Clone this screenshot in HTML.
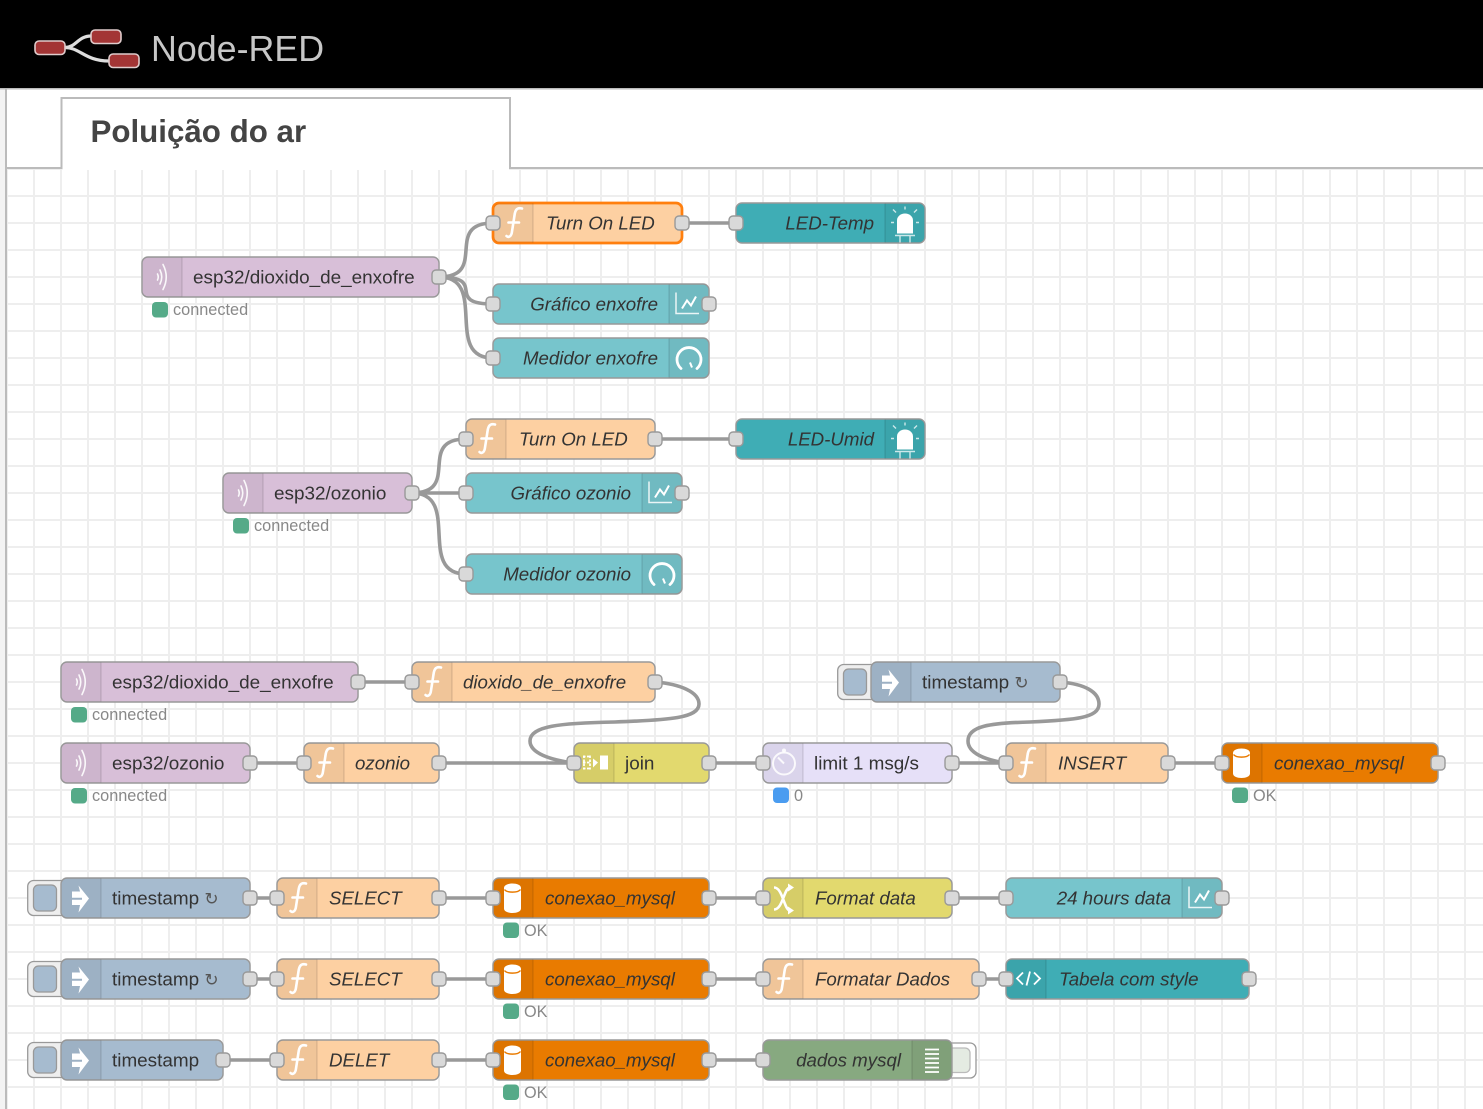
<!DOCTYPE html>
<html><head><meta charset="utf-8"><title>Node-RED</title>
<style>
html,body{margin:0;padding:0;background:#fff;width:1483px;height:1109px;overflow:hidden}
svg{display:block}
text{font-family:"Liberation Sans",sans-serif;font-size:18.9px;fill:#333}
.i{font-style:italic;font-size:18.7px}
.s{font-size:16.3px;fill:#888}
.r{font-size:17px;fill:#555}
.w{fill:none;stroke:#999;stroke-width:3.6}
.n{stroke:#999;stroke-width:1.4}
</style></head><body>
<svg width="1483" height="1109" viewBox="0 0 1483 1109" xmlns="http://www.w3.org/2000/svg">
<defs>
<pattern id="g" x="6" y="168" width="27" height="27" patternUnits="userSpaceOnUse">
<path d="M1 0V27M0 1H27" stroke="#eee" stroke-width="2" fill="none"/>
</pattern>
<g id="p"><rect x="-7" y="-7" width="14" height="14" rx="4" fill="#d9d9d9" stroke="#999" stroke-width="1.4"/></g>
<g id="il"><path d="M6 .7H40V40.3H6A5.3 5.3 0 0 1 .7 35V6A5.3 5.3 0 0 1 6 .7Z" fill="#000" fill-opacity=".05"/><path d="M40 1V40" stroke="#000" stroke-opacity=".1" stroke-width="1.4"/></g>
<g id="ir"><path d="M0 .7H34A5.3 5.3 0 0 1 39.3 6V35A5.3 5.3 0 0 1 34 40.3H0Z" fill="#000" fill-opacity=".05"/><path d="M0 1V40" stroke="#000" stroke-opacity=".1" stroke-width="1.4"/></g>
<g id="fn"><use href="#il"/><path d="M29 6C23 4.500 22 9 21.500 13L19 29C18.500 34 15.500 35.500 13.500 33.500M15.500 20H26" fill="none" stroke="#fff" stroke-width="2.600" stroke-linecap="round"/></g>
<g id="mq"><use href="#il"/><path d="M15.500 17.500q1.500 3 0 6M18 13.500q3.500 7 0 14M21 8q6.500 12.500 0 25" fill="none" stroke="#fff" stroke-opacity=".9" stroke-width="1.600" stroke-linecap="round"/></g>
<g id="in"><use href="#il"/><path d="M11 14H19L17.500 8 28 21 17.500 35 19 27.500H11V22.200H21V20.200H11Z" fill="#fff"/></g>
<g id="ch"><use href="#ir"/><path d="M7 9V30H30" fill="none" stroke="#fff" stroke-opacity=".85" stroke-width="1.500"/><path d="M13 25L18 17 22 22 27 13" fill="none" stroke="#fff" stroke-width="2"/></g>
<g id="ga"><use href="#ir"/><path d="M12 31A12 12 0 1 1 28 31" fill="none" stroke="#fff" stroke-width="2.800" stroke-linecap="round"/><path d="M21 25L23 30" stroke="#fff" stroke-width="2"/></g>
<g id="le"><use href="#ir"/><path d="M12 31V18A8 7 0 0 1 28 18V31Z" fill="#fff"/><path d="M10 33H30M15 33V40M25 33V40M20 4V7M8 7L11 10M32 7L29 10M6 20H9M31 20H34" stroke="#fff" stroke-opacity=".75" stroke-width="1.400" fill="none"/></g>
<g id="db"><use href="#il"/><path d="M11 10.500C11 4.500 28 4.500 28 10.500V31C28 37 11 37 11 31Z" fill="#fff"/><path d="M11.500 12C14 15.500 25 15.500 27.500 12" fill="none" stroke="#e97b00" stroke-width="1.500"/></g>
<g id="jo"><use href="#il"/><path d="M9 14H17M9 20H17M9 26H17M10 13V27M16 13V27" stroke="#fff" stroke-width="1.700" stroke-dasharray="2.500 1.500" fill="none"/><path d="M19 16L24 20 19 25Z" fill="#fff"/><rect x="26" y="13" width="8" height="14" fill="#fff"/></g>
<g id="de"><use href="#il"/><circle cx="21" cy="21" r="11" fill="none" stroke="#fff" stroke-opacity=".85" stroke-width="2"/><circle cx="21" cy="8" r="2" fill="#fff" fill-opacity=".85"/><path d="M15 15L21 21" stroke="#fff" stroke-opacity=".85" stroke-width="2"/></g>
<g id="sh"><use href="#il"/><path d="M11 10C20 10 21 33 27 33M11 32C20 32 21 10 27 10" fill="none" stroke="#fff" stroke-width="2.600"/><path d="M25 6L31 10 25 14ZM25 29L31 33 25 37Z" fill="#fff"/></g>
<g id="co"><use href="#il"/><path d="M17 14L11 20 17 26M28 14L34 20 28 26M24 13L20.500 27" fill="none" stroke="#fff" stroke-width="1.800"/></g>
<g id="li"><use href="#ir"/><path d="M13 10H27M13 14.500H27M13 19H27M13 23.500H27M13 28H27M13 32.500H27" stroke="#fff" stroke-width="1.700"/></g>
<g id="bt"><rect x=".7" y="2.500" width="40" height="35" rx="6" fill="#eee" stroke="#999" stroke-width="1.300"/><rect x="6.500" y="7" width="23" height="26" rx="5" fill="#a6bbcf" stroke="#999" stroke-width="1.300"/></g>
<g id="ok"><rect width="16" height="15.500" rx="4" fill="#5a8"/></g>
<g id="bl"><rect width="16" height="15.500" rx="4" fill="#4a9cf0"/></g>
</defs>

<rect width="1483" height="1109" fill="#fff"/>
<rect x="7" y="169" width="1476" height="940" fill="url(#g)"/>
<rect x="0" y="89" width="6" height="1020" fill="#f3f3f3"/>
<path d="M6 89V1109" stroke="#bbb" stroke-width="2"/>
<path d="M7 168H61.500V98H510V168H1483" fill="#fff" stroke="#bbb" stroke-width="2"/>
<rect x="62.500" y="99" width="446.500" height="71" fill="#fff"/>
<text x="90.500" y="142" style="font-size:31.300px;font-weight:bold;fill:#444">Poluição do ar</text>

<rect width="1483" height="88" fill="#000"/>
<rect y="88" width="1483" height="1.500" fill="#bbb"/>
<path d="M65 47.500C76 47.500 78 36 91 36M65 47.500C80 47.500 85 61 109 61" fill="none" stroke="#ddd" stroke-width="3.200"/>
<rect x="35" y="41" width="30" height="13.500" rx="4" fill="#a33535" stroke="#e0cccc" stroke-width="1.600"/>
<rect x="91" y="30" width="30" height="13.500" rx="4" fill="#a33535" stroke="#e0cccc" stroke-width="1.600"/>
<rect x="109" y="54" width="30" height="13.500" rx="4" fill="#a33535" stroke="#e0cccc" stroke-width="1.600"/>
<text x="151" y="61" style="font-size:35.800px;fill:#c7c7c7">Node-RED</text>

<!-- wires -->
<path class="w" d="M439 277C489 277 443 223 493 223M439 277C489 277 443 304 493 304M439 277C489 277 443 358 493 358M682 223H736"/>
<path class="w" d="M412 493C462 493 416 439 466 439M412 493H466M412 493C462 493 416 574 466 574M655 439H736"/>
<path class="w" d="M358 682H412M250 763H304M439 763H574M709 763H763M952 763H1006M1168 763H1222"/>
<path class="w" d="M655 682C680 684 699 692 699 704C699 718 670 720 615 722C560 723 530 726 530 741C530 753 550 760 574 763"/>
<path class="w" d="M1060 682C1085 684 1099 692 1099 704C1099 718 1075 720 1030 722C990 723 968 726 968 741C968 753 985 760 1006 763"/>
<path class="w" d="M250 898H277M439 898H493M709 898H763M952 898H1006M250 979H277M439 979H493M709 979H763M979 979H1006M223 1060H277M439 1060H493M709 1060H763"/>

<!-- group 1 -->
<rect class="n" x="142" y="257" width="297" height="40" rx="6" fill="#d8bfd8"/><use href="#mq" x="142" y="256.500"/><text x="193" y="283.500">esp32/dioxido_de_enxofre</text><use href="#p" x="439" y="277"/><use href="#ok" x="152" y="302"/><text class="s" x="173" y="315">connected</text>
<rect x="493" y="203" width="189" height="40" rx="6" fill="#fdd0a2" stroke="#ff7f0e" stroke-width="2.700"/><use href="#fn" x="493" y="202.500"/><text class="i" x="546" y="229.500">Turn On LED</text><use href="#p" x="493" y="223"/><use href="#p" x="682" y="223"/>
<rect class="n" x="736" y="203" width="189" height="40" rx="6" fill="#3fadb5"/><use href="#le" x="885" y="202.500"/><text class="i" x="874" y="229.500" text-anchor="end">LED-Temp</text><use href="#p" x="736" y="223"/>
<rect class="n" x="493" y="284" width="216" height="40" rx="6" fill="#77c5cc"/><use href="#ch" x="669" y="283.500"/><text class="i" x="658" y="310.500" text-anchor="end">Gráfico enxofre</text><use href="#p" x="493" y="304"/><use href="#p" x="709" y="304"/>
<rect class="n" x="493" y="338" width="216" height="40" rx="6" fill="#77c5cc"/><use href="#ga" x="669" y="337.500"/><text class="i" x="658" y="364.500" text-anchor="end">Medidor enxofre</text><use href="#p" x="493" y="358"/>

<!-- group 2 -->
<rect class="n" x="223" y="473" width="189" height="40" rx="6" fill="#d8bfd8"/><use href="#mq" x="223" y="472.500"/><text x="274" y="499.500">esp32/ozonio</text><use href="#p" x="412" y="493"/><use href="#ok" x="233" y="518"/><text class="s" x="254" y="531">connected</text>
<rect class="n" x="466" y="419" width="189" height="40" rx="6" fill="#fdd0a2"/><use href="#fn" x="466" y="418.500"/><text class="i" x="519" y="445.500">Turn On LED</text><use href="#p" x="466" y="439"/><use href="#p" x="655" y="439"/>
<rect class="n" x="736" y="419" width="189" height="40" rx="6" fill="#3fadb5"/><use href="#le" x="885" y="418.500"/><text class="i" x="874" y="445.500" text-anchor="end">LED-Umid</text><use href="#p" x="736" y="439"/>
<rect class="n" x="466" y="473" width="216" height="40" rx="6" fill="#77c5cc"/><use href="#ch" x="642" y="472.500"/><text class="i" x="631" y="499.500" text-anchor="end">Gráfico ozonio</text><use href="#p" x="466" y="493"/><use href="#p" x="682" y="493"/>
<rect class="n" x="466" y="554" width="216" height="40" rx="6" fill="#77c5cc"/><use href="#ga" x="642" y="553.500"/><text class="i" x="631" y="580.500" text-anchor="end">Medidor ozonio</text><use href="#p" x="466" y="574"/>

<!-- group 3 -->
<rect class="n" x="61" y="662" width="297" height="40" rx="6" fill="#d8bfd8"/><use href="#mq" x="61" y="661.500"/><text x="112" y="688.500">esp32/dioxido_de_enxofre</text><use href="#p" x="358" y="682"/><use href="#ok" x="71" y="707"/><text class="s" x="92" y="720">connected</text>
<rect class="n" x="412" y="662" width="243" height="40" rx="6" fill="#fdd0a2"/><use href="#fn" x="412" y="661.500"/><text class="i" x="463" y="688.500">dioxido_de_enxofre</text><use href="#p" x="412" y="682"/><use href="#p" x="655" y="682"/>
<use href="#bt" x="837" y="662"/><rect class="n" x="871" y="662" width="189" height="40" rx="6" fill="#a6bbcf"/><use href="#in" x="871" y="661.500"/><text x="922" y="688.500">timestamp <tspan class="r">↻</tspan></text><use href="#p" x="1060" y="682"/>
<rect class="n" x="61" y="743" width="189" height="40" rx="6" fill="#d8bfd8"/><use href="#mq" x="61" y="742.500"/><text x="112" y="769.500">esp32/ozonio</text><use href="#p" x="250" y="763"/><use href="#ok" x="71" y="788"/><text class="s" x="92" y="801">connected</text>
<rect class="n" x="304" y="743" width="135" height="40" rx="6" fill="#fdd0a2"/><use href="#fn" x="304" y="742.500"/><text class="i" x="355" y="769.500">ozonio</text><use href="#p" x="304" y="763"/><use href="#p" x="439" y="763"/>
<rect class="n" x="574" y="743" width="135" height="40" rx="6" fill="#e2d96e"/><use href="#jo" x="574" y="742.500"/><text x="625" y="769.500">join</text><use href="#p" x="574" y="763"/><use href="#p" x="709" y="763"/>
<rect class="n" x="763" y="743" width="189" height="40" rx="6" fill="#e6e0f8"/><use href="#de" x="763" y="742.500"/><text x="814" y="769.500">limit 1 msg/s</text><use href="#p" x="763" y="763"/><use href="#p" x="952" y="763"/><use href="#bl" x="773" y="787.500"/><text class="s" x="794" y="801">0</text>
<rect class="n" x="1006" y="743" width="162" height="40" rx="6" fill="#fdd0a2"/><use href="#fn" x="1006" y="742.500"/><text class="i" x="1058" y="769.500">INSERT</text><use href="#p" x="1006" y="763"/><use href="#p" x="1168" y="763"/>
<rect class="n" x="1222" y="743" width="216" height="40" rx="6" fill="#e97b00"/><use href="#db" x="1222" y="742.500"/><text class="i" x="1274" y="769.500">conexao_mysql</text><use href="#p" x="1222" y="763"/><use href="#p" x="1438" y="763"/><use href="#ok" x="1232" y="787.500"/><text class="s" x="1253" y="801">OK</text>

<!-- row 898 -->
<use href="#bt" x="27" y="878"/><rect class="n" x="61" y="878" width="189" height="40" rx="6" fill="#a6bbcf"/><use href="#in" x="61" y="877.500"/><text x="112" y="904.500">timestamp <tspan class="r">↻</tspan></text><use href="#p" x="250" y="898"/>
<rect class="n" x="277" y="878" width="162" height="40" rx="6" fill="#fdd0a2"/><use href="#fn" x="277" y="877.500"/><text class="i" x="329" y="904.500">SELECT</text><use href="#p" x="277" y="898"/><use href="#p" x="439" y="898"/>
<rect class="n" x="493" y="878" width="216" height="40" rx="6" fill="#e97b00"/><use href="#db" x="493" y="877.500"/><text class="i" x="545" y="904.500">conexao_mysql</text><use href="#p" x="493" y="898"/><use href="#p" x="709" y="898"/><use href="#ok" x="503" y="922.500"/><text class="s" x="524" y="936">OK</text>
<rect class="n" x="763" y="878" width="189" height="40" rx="6" fill="#e2d96e"/><use href="#sh" x="763" y="877.500"/><text class="i" x="815" y="904.500">Format data</text><use href="#p" x="763" y="898"/><use href="#p" x="952" y="898"/>
<rect class="n" x="1006" y="878" width="216" height="40" rx="6" fill="#77c5cc"/><use href="#ch" x="1182" y="877.500"/><text class="i" x="1171" y="904.500" text-anchor="end">24 hours data</text><use href="#p" x="1006" y="898"/><use href="#p" x="1222" y="898"/>

<!-- row 979 -->
<use href="#bt" x="27" y="959"/><rect class="n" x="61" y="959" width="189" height="40" rx="6" fill="#a6bbcf"/><use href="#in" x="61" y="958.500"/><text x="112" y="985.500">timestamp <tspan class="r">↻</tspan></text><use href="#p" x="250" y="979"/>
<rect class="n" x="277" y="959" width="162" height="40" rx="6" fill="#fdd0a2"/><use href="#fn" x="277" y="958.500"/><text class="i" x="329" y="985.500">SELECT</text><use href="#p" x="277" y="979"/><use href="#p" x="439" y="979"/>
<rect class="n" x="493" y="959" width="216" height="40" rx="6" fill="#e97b00"/><use href="#db" x="493" y="958.500"/><text class="i" x="545" y="985.500">conexao_mysql</text><use href="#p" x="493" y="979"/><use href="#p" x="709" y="979"/><use href="#ok" x="503" y="1003.500"/><text class="s" x="524" y="1017">OK</text>
<rect class="n" x="763" y="959" width="216" height="40" rx="6" fill="#fdd0a2"/><use href="#fn" x="763" y="958.500"/><text class="i" x="815" y="985.500">Formatar Dados</text><use href="#p" x="763" y="979"/><use href="#p" x="979" y="979"/>
<rect class="n" x="1006" y="959" width="243" height="40" rx="6" fill="#3fadb5"/><use href="#co" x="1006" y="958.500"/><text class="i" x="1059" y="985.500">Tabela com style</text><use href="#p" x="1006" y="979"/><use href="#p" x="1249" y="979"/>

<!-- row 1060 -->
<use href="#bt" x="27" y="1040"/><rect class="n" x="61" y="1040" width="162" height="40" rx="6" fill="#a6bbcf"/><use href="#in" x="61" y="1039.500"/><text x="112" y="1066.500">timestamp</text><use href="#p" x="223" y="1060"/>
<rect class="n" x="277" y="1040" width="162" height="40" rx="6" fill="#fdd0a2"/><use href="#fn" x="277" y="1039.500"/><text class="i" x="329" y="1066.500">DELET</text><use href="#p" x="277" y="1060"/><use href="#p" x="439" y="1060"/>
<rect class="n" x="493" y="1040" width="216" height="40" rx="6" fill="#e97b00"/><use href="#db" x="493" y="1039.500"/><text class="i" x="545" y="1066.500">conexao_mysql</text><use href="#p" x="493" y="1060"/><use href="#p" x="709" y="1060"/><use href="#ok" x="503" y="1084.500"/><text class="s" x="524" y="1098">OK</text>
<rect x="936" y="1043" width="40" height="35" rx="6" fill="#fff" stroke="#999" stroke-width="1.300"/><rect x="940" y="1048" width="30" height="24.500" rx="5" fill="#e4ebe2" stroke="#bbb" stroke-width="1.300"/>
<rect class="n" x="763" y="1040" width="189" height="40" rx="6" fill="#87a980"/><use href="#li" x="912" y="1039.500"/><text class="i" x="901" y="1066.500" text-anchor="end">dados mysql</text><use href="#p" x="763" y="1060"/>
</svg>
</body></html>
